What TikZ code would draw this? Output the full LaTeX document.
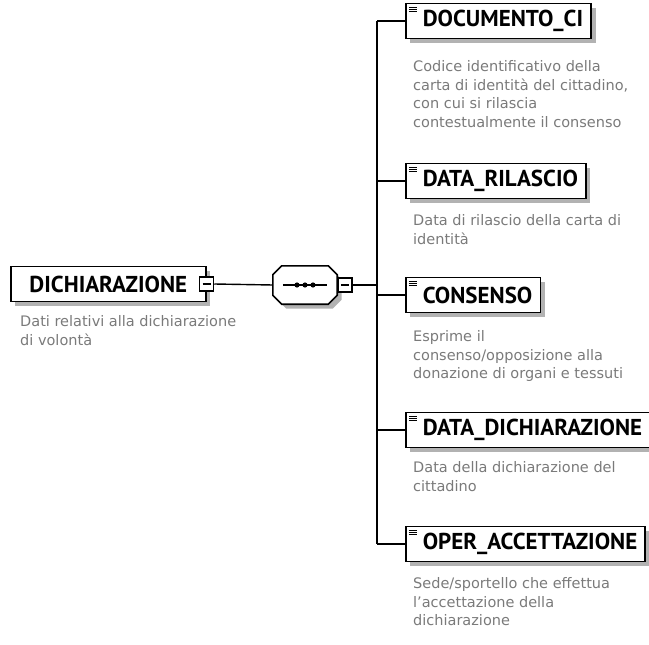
\documentclass[tikz,border=0pt]{standalone}
\usepackage{fontspec}
\setmainfont{DejaVu Sans}
\newfontfamily\labelfont{PT Sans}
\usetikzlibrary{calc,positioning,shadows}
\def\seqoct[#1](#2){\draw[#1] ([xshift=9pt]#2.north west) -- ([xshift=-9pt]#2.north east) -- ([yshift=-9pt]#2.north east) -- ([yshift=9pt]#2.south east) -- ([xshift=-9pt]#2.south east) -- ([xshift=9pt]#2.south west) -- ([yshift=9pt]#2.south west) -- ([yshift=-9pt]#2.north west) -- cycle;}

\tikzset{
	elem/.style={draw, line width=1.6pt, fill=white, anchor=west, minimum height=35pt, inner xsep=8pt,
		font=\labelfont\bfseries\fontsize{23}{23}\selectfont,
		drop shadow={shadow xshift=4.5pt, shadow yshift=-4.5pt, fill=black!30, opacity=1},
		path picture={
			\foreach \k in {3.5pt,5.8pt,8.1pt}
				\draw[line width=1pt] ([shift={(3pt,-\k)}]path picture bounding box.north west) -- ++(8pt,0);
		}},
	rootelem/.style={draw, line width=1.6pt, fill=white, anchor=west, minimum height=35pt, minimum width=195pt,
		font=\labelfont\bfseries\fontsize{23}{23}\selectfont,
		drop shadow={shadow xshift=4.5pt, shadow yshift=-4.5pt, fill=black!30, opacity=1}},
	minusbox/.style={draw, line width=1.3pt, fill=white, minimum size=14pt, inner sep=0pt,
		path picture={\draw[line width=1.3pt] ([xshift=3pt]path picture bounding box.west) -- ([xshift=-3pt]path picture bounding box.east);}},
	seqbase/.style={minimum width=64pt, minimum height=38pt, inner sep=0pt},
	desc/.style={align=left, inner sep=0pt, text=black!52, font=\fontsize{14.5}{18.5}\selectfont},
	wire/.style={line width=1.4pt}
}

\begin{document}
\begin{tikzpicture}[x=1pt, y=-1pt]
			%%%%% START %%%%%
			\useasboundingbox (0,0) rectangle (649,645);
			
			% root element
			\node[rootelem] (dich) at (10,284) {DICHIARAZIONE};
			\node[minusbox] (dichmin) at (dich.east) {};
			\node[desc, below right=13pt and 10pt of dich.south west] (dichd) {Dati relativi alla dichiarazione\\di volontà};
			
			% sequence
			\node[seqbase] (seq) at (305,285) {};
			\node[seqbase] (seqsh) at ([shift={(4.5pt,-4.5pt)}]seq.center) {};
			\seqoct[fill=black!30, draw=none](seqsh)
			\seqoct[line width=1.6pt, fill=white](seq)
			\node[minusbox, anchor=west] (seqmin) at (seq.east) {};
			\draw[wire] ([xshift=10pt]seq.west) -- ([xshift=-10pt]seq.east);
			\fill ($(seq.center)+(-8,0)$) circle (2.6pt);
			\fill (seq.center) circle (2.6pt);
			\fill ($(seq.center)+(8,0)$) circle (2.6pt);
			\draw[wire] (dichmin.east) -- (seq.west);
			
			\coordinate (bus) at (377,285);
			\draw[wire] (seqmin.east) -- (bus);
			
			% children
			\node[elem] (doc) at (405,21) {\hspace{9pt}DOCUMENTO\_CI};
			\node[elem] (ril) at (405,181) {\hspace{9pt}DATA\_RILASCIO};
			\node[elem] (cons) at (405,295) {\hspace{9pt}CONSENSO};
			\node[elem] (ddich) at (405,430) {\hspace{9pt}DATA\_DICHIARAZIONE};
			\node[elem] (oper) at (405,544) {\hspace{9pt}OPER\_ACCETTAZIONE};
			
			\draw[wire] (bus |- doc.west) -- (bus |- oper.west);
			\draw[wire] (bus |- doc.west) -- (doc.west);
			\draw[wire] (bus |- ril.west) -- (ril.west);
			\draw[wire] (bus |- cons.west) -- (cons.west);
			\draw[wire] (bus |- ddich.west) -- (ddich.west);
			\draw[wire] (bus |- oper.west) -- (oper.west);
			
			\node[desc, below right=21pt and 8pt of doc.south west] (docd) {Codice identificativo della\\carta di identità del cittadino,\\con cui si rilascia\\contestualmente il consenso};
			\node[desc, below right=15pt and 8pt of ril.south west] (rild) {Data di rilascio della carta di\\identità};
			\node[desc, below right=17pt and 8pt of cons.south west] (consd) {Esprime il\\consenso/opposizione alla\\donazione di organi e tessuti};
			\node[desc, below right=13pt and 8pt of ddich.south west] (ddichd) {Data della dichiarazione del\\cittadino};
			\node[desc, below right=15pt and 8pt of oper.south west] (operd) {Sede/sportello che effettua\\l'accettazione della\\dichiarazione};
			
			%%%%% END %%%%%
\end{tikzpicture}
\end{document}
